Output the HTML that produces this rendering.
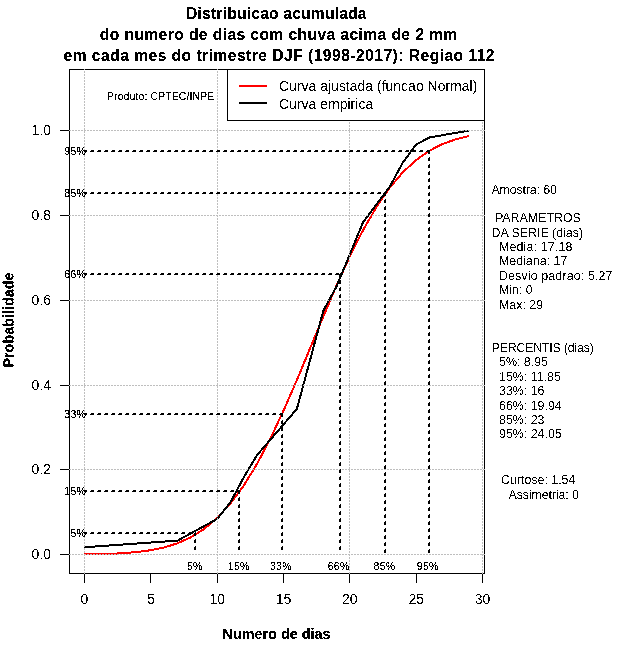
<!DOCTYPE html>
<html lang="pt"><head><meta charset="utf-8"><title>Distribuicao acumulada</title>
<style>html,body{margin:0;padding:0;background:#fff}svg{display:block}text{font-family:"Liberation Sans",sans-serif;fill:#000}.tx{filter:url(#th)}.tx2{filter:url(#th2)}.b{font-weight:bold}</style></head><body>
<svg width="640" height="660" viewBox="0 0 640 660">
<rect x="0" y="0" width="640" height="660" fill="#fff"/>
<defs><filter id="th" x="0" y="0" width="640" height="660" filterUnits="userSpaceOnUse" color-interpolation-filters="sRGB"><feComponentTransfer><feFuncA type="discrete" tableValues="0 0 1 1"/></feComponentTransfer></filter><filter id="th2" x="0" y="0" width="640" height="660" filterUnits="userSpaceOnUse" color-interpolation-filters="sRGB"><feComponentTransfer><feFuncA type="discrete" tableValues="0 0 1 1 1"/></feComponentTransfer></filter></defs>
<polyline points="84.5,554.4 97.8,554.2 111.0,553.8 124.3,553.1 137.6,552.0 150.8,550.2 164.1,547.5 177.4,543.3 190.6,537.4 203.9,529.1 217.2,518.0 230.4,503.6 243.7,485.6 257.0,464.0 270.2,438.9 283.5,410.7 296.8,380.3 310.0,348.5 323.3,316.5 336.6,285.4 349.8,256.3 363.1,230.1 376.4,207.1 389.6,187.9 402.9,172.2 416.2,160.0 429.4,150.7 442.7,144.0 456.0,139.2 469.2,136.0" fill="none" stroke="#ff0000" stroke-width="2" shape-rendering="crispEdges" stroke-linejoin="round"/>
<polyline points="84.0,547.3 177.6,540.6 217.4,518.8 230.6,502.0 243.9,477.1 257.1,455.0 296.9,408.9 323.4,310.6 336.6,286.3 363.1,222.2 389.6,187.0 402.9,162.5 416.1,144.5 429.4,137.5 469.1,130.5" fill="none" stroke="#000" stroke-width="2" shape-rendering="crispEdges" stroke-linejoin="round"/>
<g stroke="#bebebe" stroke-width="1" stroke-dasharray="2 1" shape-rendering="crispEdges" fill="none">
<line x1="84.5" y1="574" x2="84.5" y2="69"/>
<line x1="217.5" y1="574" x2="217.5" y2="69"/>
<line x1="349.5" y1="574" x2="349.5" y2="69"/>
<line x1="482.5" y1="574" x2="482.5" y2="69"/>
<line x1="69" y1="554.5" x2="485" y2="554.5"/>
<line x1="69" y1="469.5" x2="485" y2="469.5"/>
<line x1="69" y1="385.5" x2="485" y2="385.5"/>
<line x1="69" y1="300.5" x2="485" y2="300.5"/>
<line x1="69" y1="215.5" x2="485" y2="215.5"/>
<line x1="69" y1="130.5" x2="485" y2="130.5"/>
</g>
<g stroke="#000" stroke-width="1" shape-rendering="crispEdges" fill="none">
<line x1="84" y1="532.5" x2="196" y2="532.5" stroke-dasharray="3 4"/>
<line x1="84" y1="533.5" x2="196" y2="533.5" stroke-dasharray="4 3" stroke-dashoffset="1"/>
<line x1="195.5" y1="532" x2="195.5" y2="553" stroke-dasharray="4 3"/>
<line x1="194.5" y1="533" x2="194.5" y2="553" stroke-dasharray="3 4"/>
<line x1="84" y1="490.5" x2="240" y2="490.5" stroke-dasharray="3 4"/>
<line x1="84" y1="491.5" x2="240" y2="491.5" stroke-dasharray="4 3" stroke-dashoffset="1"/>
<line x1="239.5" y1="490" x2="239.5" y2="553" stroke-dasharray="4 3"/>
<line x1="238.5" y1="491" x2="238.5" y2="553" stroke-dasharray="3 4"/>
<line x1="84" y1="413.5" x2="283" y2="413.5" stroke-dasharray="3 4"/>
<line x1="84" y1="414.5" x2="283" y2="414.5" stroke-dasharray="4 3" stroke-dashoffset="1"/>
<line x1="282.5" y1="413" x2="282.5" y2="553" stroke-dasharray="4 3"/>
<line x1="281.5" y1="414" x2="281.5" y2="553" stroke-dasharray="3 4"/>
<line x1="84" y1="273.5" x2="341" y2="273.5" stroke-dasharray="3 4"/>
<line x1="84" y1="274.5" x2="341" y2="274.5" stroke-dasharray="4 3" stroke-dashoffset="1"/>
<line x1="340.5" y1="273" x2="340.5" y2="553" stroke-dasharray="4 3"/>
<line x1="339.5" y1="274" x2="339.5" y2="553" stroke-dasharray="3 4"/>
<line x1="84" y1="192.5" x2="386" y2="192.5" stroke-dasharray="3 4"/>
<line x1="84" y1="193.5" x2="386" y2="193.5" stroke-dasharray="4 3" stroke-dashoffset="1"/>
<line x1="385.5" y1="192" x2="385.5" y2="553" stroke-dasharray="4 3"/>
<line x1="384.5" y1="193" x2="384.5" y2="553" stroke-dasharray="3 4"/>
<line x1="84" y1="150.5" x2="430" y2="150.5" stroke-dasharray="3 4"/>
<line x1="84" y1="151.5" x2="430" y2="151.5" stroke-dasharray="4 3" stroke-dashoffset="1"/>
<line x1="429.5" y1="150" x2="429.5" y2="553" stroke-dasharray="4 3"/>
<line x1="428.5" y1="151" x2="428.5" y2="553" stroke-dasharray="3 4"/>
</g>
<rect x="227.5" y="69.5" width="257.0" height="51" fill="#fff" stroke="#000" stroke-width="1" shape-rendering="crispEdges"/>
<line x1="239" y1="86" x2="267" y2="86" stroke="#ff0000" stroke-width="2" shape-rendering="crispEdges"/>
<line x1="239" y1="103" x2="267" y2="103" stroke="#000" stroke-width="2" shape-rendering="crispEdges"/>
<g stroke="#000" stroke-width="1" shape-rendering="crispEdges" fill="none">
<rect x="69.5" y="69.5" width="415.0" height="504.0"/>
<line x1="84.5" y1="573.5" x2="84.5" y2="583"/>
<line x1="150.5" y1="573.5" x2="150.5" y2="583"/>
<line x1="217.5" y1="573.5" x2="217.5" y2="583"/>
<line x1="283.5" y1="573.5" x2="283.5" y2="583"/>
<line x1="349.5" y1="573.5" x2="349.5" y2="583"/>
<line x1="416.5" y1="573.5" x2="416.5" y2="583"/>
<line x1="482.5" y1="573.5" x2="482.5" y2="583"/>
<line x1="60" y1="554.5" x2="69.5" y2="554.5"/>
<line x1="60" y1="469.5" x2="69.5" y2="469.5"/>
<line x1="60" y1="385.5" x2="69.5" y2="385.5"/>
<line x1="60" y1="300.5" x2="69.5" y2="300.5"/>
<line x1="60" y1="215.5" x2="69.5" y2="215.5"/>
<line x1="60" y1="130.5" x2="69.5" y2="130.5"/>
</g>
<g fill="#bebebe" shape-rendering="crispEdges">
<rect x="69" y="554" width="1" height="1"/><rect x="484" y="554" width="1" height="1"/>
<rect x="69" y="469" width="1" height="1"/><rect x="484" y="469" width="1" height="1"/>
<rect x="69" y="385" width="1" height="1"/><rect x="484" y="385" width="1" height="1"/>
<rect x="69" y="300" width="1" height="1"/><rect x="484" y="300" width="1" height="1"/>
<rect x="69" y="215" width="1" height="1"/><rect x="484" y="215" width="1" height="1"/>
<rect x="69" y="130" width="1" height="1"/><rect x="484" y="130" width="1" height="1"/>
<rect x="84" y="573" width="1" height="1"/>
<rect x="84" y="69" width="1" height="1"/>
<rect x="217" y="573" width="1" height="1"/>
<rect x="217" y="69" width="1" height="1"/>
<rect x="349" y="573" width="1" height="1"/>
<rect x="482" y="573" width="1" height="1"/>
</g>
<g class="tx">
<text x="279" y="91" font-size="15.5" textLength="198.3" lengthAdjust="spacingAndGlyphs">Curva ajustada (funcao Normal)</text>
<text x="279" y="109" font-size="15.5" textLength="94.2" lengthAdjust="spacingAndGlyphs">Curva empirica</text>
<text x="84.5" y="604" font-size="14" text-anchor="middle">0</text>
<text x="150.8" y="604" font-size="14" text-anchor="middle">5</text>
<text x="217.2" y="604" font-size="14" text-anchor="middle">10</text>
<text x="283.5" y="604" font-size="14" text-anchor="middle">15</text>
<text x="349.8" y="604" font-size="14" text-anchor="middle">20</text>
<text x="416.2" y="604" font-size="14" text-anchor="middle">25</text>
<text x="482.5" y="604" font-size="14" text-anchor="middle">30</text>
<text x="51" y="559" font-size="14" text-anchor="end">0.0</text>
<text x="51" y="474" font-size="14" text-anchor="end">0.2</text>
<text x="51" y="390" font-size="14" text-anchor="end">0.4</text>
<text x="51" y="305" font-size="14" text-anchor="end">0.6</text>
<text x="51" y="220" font-size="14" text-anchor="end">0.8</text>
<text x="51" y="135" font-size="14" text-anchor="end">1.0</text>
<text x="491.5" y="194" font-size="12.4" letter-spacing="-0.15">Amostra: 60</text>
<text x="495" y="222" font-size="12.4" letter-spacing="0">PARAMETROS</text>
<text x="491.5" y="237" font-size="12.4" letter-spacing="0">DA SERIE (dias)</text>
<text x="499" y="251" font-size="12.4" letter-spacing="0.16">Media: 17.18</text>
<text x="499" y="265" font-size="12.4" letter-spacing="0">Mediana: 17</text>
<text x="499" y="280" font-size="12.4" letter-spacing="0.14">Desvio padrao: 5.27</text>
<text x="499" y="294" font-size="12.4" letter-spacing="0">Min: 0</text>
<text x="499" y="308.5" font-size="12.4" letter-spacing="0">Max: 29</text>
<text x="491.5" y="352" font-size="12.4" letter-spacing="-0.2">PERCENTIS (dias)</text>
<text x="499" y="366" font-size="12.4" letter-spacing="0">5%: 8.95</text>
<text x="499" y="381" font-size="12.4" letter-spacing="0">15%: 11.85</text>
<text x="499" y="395" font-size="12.4" letter-spacing="0">33%: 16</text>
<text x="499" y="410" font-size="12.4" letter-spacing="0">66%: 19.94</text>
<text x="499" y="424" font-size="12.4" letter-spacing="0">85%: 23</text>
<text x="499" y="438" font-size="12.4" letter-spacing="0">95%: 24.05</text>
<text x="501" y="484" font-size="12.4" letter-spacing="0">Curtose: 1.54</text>
<text x="508.5" y="498.5" font-size="12.4" letter-spacing="-0.1">Assimetria: 0</text>
</g>
<g class="tx2">
<text x="194.8" y="570" font-size="10.5" letter-spacing="0.3" text-anchor="middle">5%</text>
<text x="86.2" y="537.0" font-size="10.5" letter-spacing="0.3" text-anchor="end">5%</text>
<text x="238.8" y="570" font-size="10.5" letter-spacing="0.3" text-anchor="middle">15%</text>
<text x="86.2" y="494.6" font-size="10.5" letter-spacing="0.3" text-anchor="end">15%</text>
<text x="280.9" y="570" font-size="10.5" letter-spacing="0.3" text-anchor="middle">33%</text>
<text x="86.2" y="418.0" font-size="10.5" letter-spacing="0.3" text-anchor="end">33%</text>
<text x="338.6" y="570" font-size="10.5" letter-spacing="0.3" text-anchor="middle">66%</text>
<text x="86.2" y="278.0" font-size="10.5" letter-spacing="0.3" text-anchor="end">66%</text>
<text x="384.5" y="570" font-size="10.5" letter-spacing="0.3" text-anchor="middle">85%</text>
<text x="86.2" y="197.3" font-size="10.5" letter-spacing="0.3" text-anchor="end">85%</text>
<text x="427.8" y="570" font-size="10.5" letter-spacing="0.3" text-anchor="middle">95%</text>
<text x="86.2" y="155.0" font-size="10.5" letter-spacing="0.3" text-anchor="end">95%</text>
<text class="b" x="276.4" y="18.5" font-size="15.6" letter-spacing="0.22" text-anchor="middle">Distribuicao acumulada</text>
<text class="b" x="278.7" y="39.5" font-size="15.6" letter-spacing="0.42" text-anchor="middle">do numero de dias com chuva acima de 2 mm</text>
<text class="b" x="279.3" y="61" font-size="15.6" letter-spacing="0.48" text-anchor="middle">em cada mes do trimestre DJF (1998-2017): Regiao 112</text>
<text class="b" x="276.5" y="639" font-size="14.4" text-anchor="middle">Numero de dias</text>
<text class="b" transform="translate(13.5,320) rotate(-90)" font-size="14.4" text-anchor="middle">Probabilidade</text>
<text x="107" y="100" font-size="10.4" letter-spacing="0.15">Produto: CPTEC/INPE</text>
</g>
</svg></body></html>
